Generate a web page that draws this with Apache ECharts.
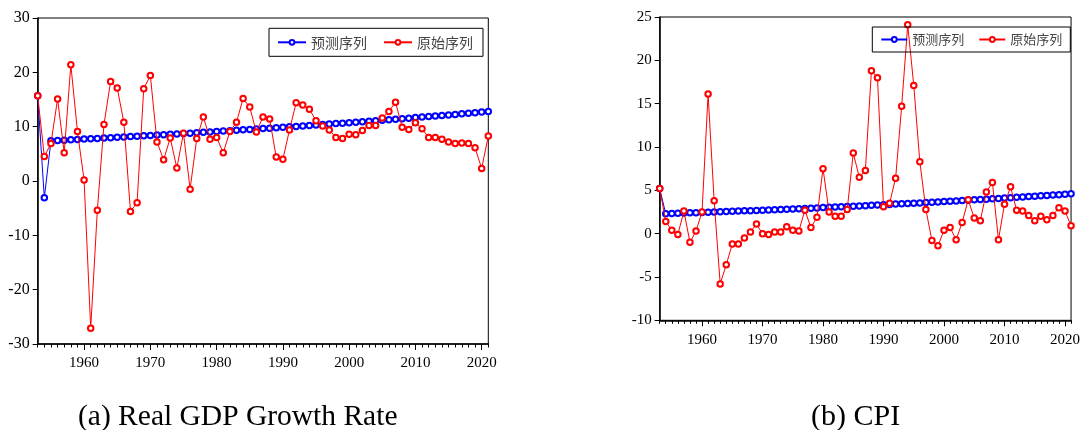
<!DOCTYPE html>
<html>
<head>
<meta charset="utf-8">
<script src="https://cdn.jsdelivr.net/npm/echarts@6/dist/echarts.min.js"></script>
<style>
html,body{margin:0;padding:0;background:#fff;}
#chart{width:1083px;height:430px;}
</style>
</head>
<body>
<div id="chart"></div>
<script>
const years = [];
for (let y = 1953; y <= 2021; y++) years.push(String(y));

const seriesNames = ['预测序列', '原始序列'];
const captions = ['(a) Real GDP Growth Rate', '(b) CPI'];

const gdpOriginal = [
  15.7, 4.5, 6.9, 15.1, 5.2, 21.4, 9.1, 0.2, -27.1, -5.4,
  10.4, 18.3, 17.1, 10.8, -5.6, -4.0, 17.0, 19.4, 7.2, 3.9,
  7.9, 2.4, 8.8, -1.5, 7.8, 11.8, 7.7, 8.0, 5.2, 9.1,
  10.8, 15.2, 13.6, 9.0, 11.8, 11.4, 4.4, 4.0, 9.4, 14.4,
  14.0, 13.2, 11.1, 10.1, 9.4, 8.0, 7.8, 8.6, 8.5, 9.3,
  10.2, 10.2, 11.6, 12.8, 14.5, 9.9, 9.5, 10.7, 9.6, 8.0,
  8.0, 7.7, 7.2, 6.9, 7.0, 6.9, 6.1, 2.3, 8.3
];
const gdpPredicted = [
  15.7, -3.1, 7.40, 7.46, 7.52, 7.59, 7.65, 7.71, 7.78, 7.84,
  7.91, 7.97, 8.04, 8.11, 8.17, 8.24, 8.31, 8.38, 8.45, 8.52,
  8.59, 8.66, 8.73, 8.80, 8.88, 8.95, 9.03, 9.10, 9.18, 9.25,
  9.33, 9.41, 9.48, 9.56, 9.64, 9.72, 9.80, 9.89, 9.97, 10.05,
  10.13, 10.22, 10.30, 10.39, 10.48, 10.56, 10.65, 10.74, 10.83, 10.92,
  11.01, 11.10, 11.19, 11.29, 11.38, 11.48, 11.57, 11.67, 11.76, 11.86,
  11.96, 12.06, 12.16, 12.26, 12.36, 12.47, 12.57, 12.68, 12.78
];
const cpiOriginal = [
  5.2, 1.4, 0.4, -0.1, 2.6, -1.0, 0.3, 2.5, 16.1, 3.8,
  -5.8, -3.6, -1.2, -1.2, -0.5, 0.2, 1.1, 0.0, -0.1, 0.2,
  0.2, 0.8, 0.4, 0.3, 2.7, 0.7, 1.9, 7.5, 2.5, 2.0,
  2.0, 2.8, 9.3, 6.5, 7.3, 18.8, 18.0, 3.1, 3.5, 6.4,
  14.7, 24.1, 17.1, 8.3, 2.8, -0.8, -1.4, 0.4, 0.7, -0.7,
  1.3, 3.9, 1.8, 1.5, 4.8, 5.9, -0.7, 3.4, 5.4, 2.7,
  2.6, 2.1, 1.5, 2.0, 1.6, 2.1, 3.0, 2.6, 0.9
];
const cpiPredicted = [
  5.2, 2.30, 2.32, 2.35, 2.37, 2.40, 2.42, 2.45, 2.47, 2.50,
  2.52, 2.55, 2.57, 2.60, 2.63, 2.65, 2.68, 2.71, 2.74, 2.77,
  2.79, 2.82, 2.85, 2.88, 2.91, 2.94, 2.97, 3.01, 3.04, 3.07,
  3.10, 3.13, 3.17, 3.20, 3.23, 3.27, 3.30, 3.34, 3.37, 3.41,
  3.44, 3.48, 3.51, 3.55, 3.59, 3.62, 3.66, 3.70, 3.74, 3.78,
  3.82, 3.86, 3.90, 3.94, 3.98, 4.02, 4.06, 4.10, 4.15, 4.19,
  4.23, 4.28, 4.32, 4.37, 4.41, 4.46, 4.50, 4.55, 4.60
];

const SERIF = '"Liberation Serif", "Times New Roman", serif';
const CJK = '"Noto Sans CJK SC", sans-serif';
const isDecade = (idx, val) => Number(val) % 10 === 0;

function xAxesFor(gridIndex) {
  return [
    {
      type: 'category', gridIndex, data: years, boundaryGap: false, position: 'bottom',
      axisLine: { show: true, onZero: false, lineStyle: { color: '#000', width: 1.5 } },
      axisTick: { show: true, interval: 0, length: 3.5, inside: false, lineStyle: { color: '#000', width: 1 } },
      axisLabel: { show: false },
      splitLine: { show: false }
    },
    {
      type: 'category', gridIndex, data: years, boundaryGap: false, position: 'bottom',
      axisLine: { show: false, onZero: false },
      axisTick: { show: true, interval: isDecade, length: 6, lineStyle: { color: '#000', width: 1 } },
      axisLabel: { show: true, interval: isDecade, margin: 12, color: '#000', fontFamily: SERIF, fontSize: 15 },
      splitLine: { show: false }
    }
  ];
}
function yAxisFor(gridIndex, min, max, interval, fs) {
  return {
    type: 'value', gridIndex, min, max, interval,
    axisLine: { show: true, onZero: false, lineStyle: { color: '#000', width: 1.5 } },
    axisTick: { show: true, length: 5, lineStyle: { color: '#000', width: 1 } },
    axisLabel: { margin: 8, color: '#000', fontFamily: SERIF, fontSize: fs },
    splitLine: { show: false }
  };
}
function lineSeries(name, data, color, xi, yi) {
  return {
    name, type: 'line', data, xAxisIndex: xi, yAxisIndex: yi,
    symbol: 'emptyCircle', symbolSize: 5.5, showAllSymbol: true,
    lineStyle: { color, width: 1 },
    itemStyle: { color, borderColor: color, borderWidth: 1 },
    emphasis: { disabled: true },
    z: color === '#ff0000' ? 3 : 2
  };
}

const chart = echarts.init(document.getElementById('chart'), null, { renderer: 'canvas' });
chart.setOption({
  animation: false,
  backgroundColor: '#fff',
  grid: [
    { left: 37.7, top: 18, width: 450.6, height: 326, show: true, borderColor: '#000', borderWidth: 1, backgroundColor: 'transparent' },
    { left: 659.7, top: 17, width: 415.3, height: 303.3, show: true, borderColor: '#000', borderWidth: 1, backgroundColor: 'transparent' }
  ],
  xAxis: [...xAxesFor(0), ...xAxesFor(1)],
  yAxis: [yAxisFor(0, -30, 30, 10, 16), yAxisFor(1, -10, 25, 5, 15)],
  legend: [
    {
      data: seriesNames, left: 269, top: 28.3, orient: 'horizontal',
      padding: [7, 10, 7, 8], itemGap: 16, itemWidth: 28, itemHeight: 6,
      borderColor: '#000', borderWidth: 1, backgroundColor: 'transparent',
      textStyle: { fontFamily: CJK, fontSize: 14, color: '#444' },
      selectedMode: false
    },
    {
      data: seriesNames, left: 872.3, top: 27, orient: 'horizontal',
      padding: [6, 8, 6, 8], itemGap: 14, itemWidth: 26, itemHeight: 6,
      borderColor: '#000', borderWidth: 1, backgroundColor: 'transparent',
      textStyle: { fontFamily: CJK, fontSize: 13, color: '#444' },
      selectedMode: false
    }
  ],
  series: [
    lineSeries(seriesNames[0], gdpPredicted, '#0000ff', 0, 0),
    lineSeries(seriesNames[1], gdpOriginal, '#ff0000', 0, 0),
    lineSeries(seriesNames[0], cpiPredicted, '#0000ff', 2, 1),
    lineSeries(seriesNames[1], cpiOriginal, '#ff0000', 2, 1)
  ],
  graphic: [
    { type: 'text', left: 78, top: 402, style: { text: captions[0], fontFamily: SERIF, fontSize: 29.5, fill: '#000' } },
    { type: 'text', left: 811, top: 402, style: { text: captions[1], fontFamily: SERIF, fontSize: 30, fill: '#000' } }
  ]
});
</script>
</body>
</html>
